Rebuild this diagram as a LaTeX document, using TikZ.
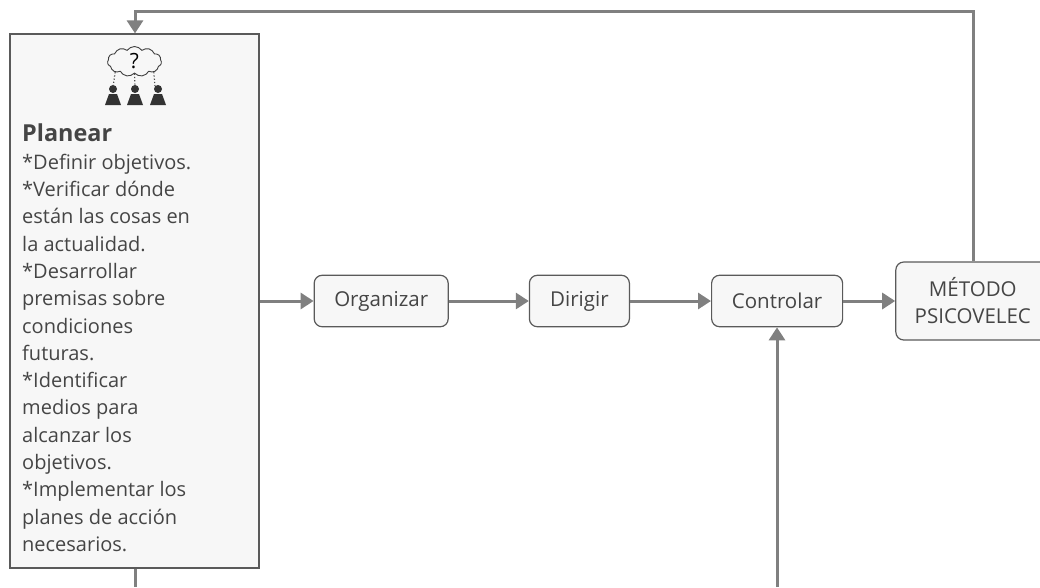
\documentclass[tikz,border=0pt]{standalone}
\usepackage{fontspec}
\setmainfont{Open Sans}
\usetikzlibrary{positioning,arrows.meta,shapes.symbols}
\definecolor{linegray}{HTML}{808080}
\definecolor{boxgray}{HTML}{5A5A5A}
\definecolor{fillgray}{HTML}{F7F7F7}
\definecolor{textgray}{HTML}{454545}
\tikzset{
  etapa/.style={rectangle, rounded corners=8pt, draw=boxgray, line width=1.2pt, fill=fillgray,
    text=textgray, minimum height=51.5pt, align=center, font=\fontsize{20.5}{27}\selectfont, inner sep=0pt},
  flecha/.style={draw=linegray, line width=3pt, -{Triangle[length=13pt,width=16pt]}},
  persona/.pic={
    \fill[black!80] (0,-6) circle (4pt);
    \fill[black!80] (-8,10) -- (-4,-1) -- (4,-1) -- (8,10) -- cycle;
  }
}
\begin{document}
\begin{tikzpicture}[x=1pt,y=-1pt]
\useasboundingbox (0,0) rectangle (1040,587);
\node[rectangle, draw=boxgray, line width=1.2pt, fill=fillgray, minimum width=249pt, minimum height=534pt, inner sep=0pt] (planear) at (134.5,301) {};
\node[etapa, minimum width=134pt, right=54pt of planear] (organizar) {Organizar};
\node[etapa, minimum width=100pt, right=80pt of organizar] (dirigir) {Dirigir};
\node[etapa, minimum width=131pt, right=81pt of dirigir] (controlar) {Controlar};
\node[etapa, minimum width=154pt, minimum height=78pt, right=52pt of controlar] (metodo) {MÉTODO\\PSICOVELEC};
% texto de la caja
\node[anchor=north west, inner sep=0pt, text=textgray, align=left, font=\fontsize{20}{27.3}\selectfont] (planeartxt) at (22,124)
{\textbf{\fontsize{23.4}{27.3}\selectfont Planear}\\*Definir objetivos.\\*Verificar dónde\\están las cosas en\\la actualidad.\\*Desarrollar\\premisas sobre\\condiciones\\futuras.\\*Identificar\\medios para\\alcanzar los\\objetivos.\\*Implementar los\\planes de acción\\necesarios.};
% icono
\node[cloud, cloud puffs=11, cloud puff arc=110, aspect=1.9, draw=black!75, line width=0.9pt, minimum width=54pt, minimum height=30pt, inner sep=0pt, font=\fontsize{21}{21}\selectfont] (nube) at (134.5,61.5) {?};
\path (113,95) pic {persona};
\path (135,95) pic {persona};
\path (158,95) pic {persona};
\coordinate (p1) at (113,87);
\coordinate (p2) at (135,87);
\coordinate (p3) at (155,87);
\draw[black!70, line width=1.2pt, dotted] (nube.south west) -- (p1);
\draw[black!70, line width=1.2pt, dotted] (nube.south) -- (p2);
\draw[black!70, line width=1.2pt, dotted] (nube.south east) -- (p3);
% conectores
\coordinate (supder) at (973,11);
\coordinate (supizq) at (135,11);
\coordinate (infizq) at (135,587);
\coordinate (infder) at (777,587);
\draw[flecha] (planear) -- (organizar);
\draw[flecha] (organizar) -- (dirigir);
\draw[flecha] (dirigir) -- (controlar);
\draw[flecha] (controlar) -- (metodo);
\draw[flecha] (metodo.north -| supder) -- (supder) -- (supizq) -- (planear.north -| supizq);
\draw[flecha] (infder) -- (controlar.south -| infder);
\draw[draw=linegray, line width=3pt] (planear.south -| infizq) -- (infizq);
\end{tikzpicture}
\end{document}
